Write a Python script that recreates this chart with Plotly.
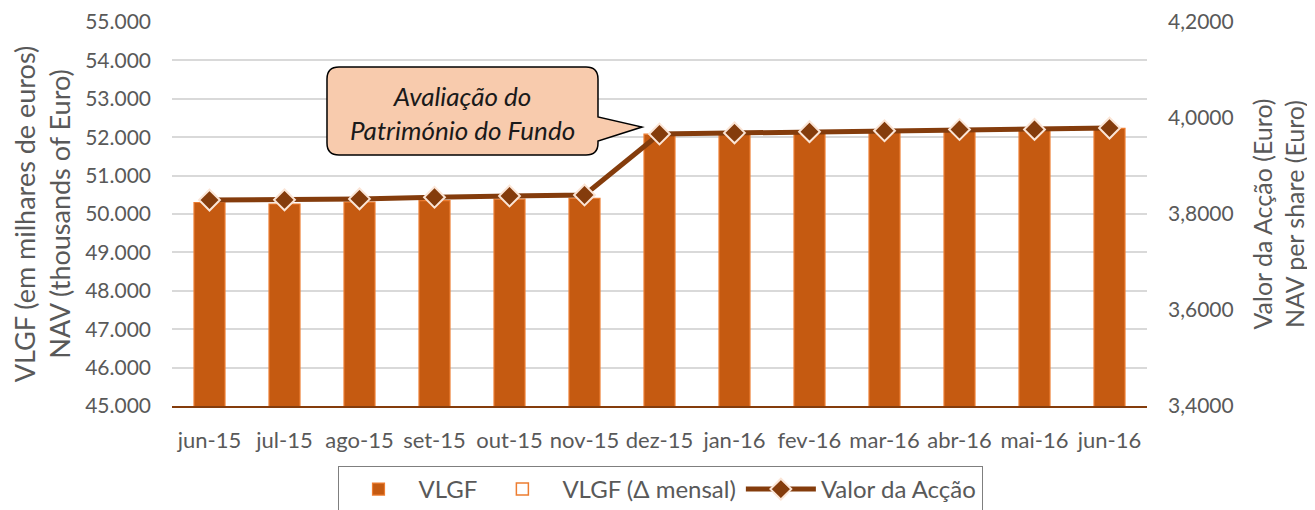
import plotly.graph_objects as go

# ---------------- data ----------------
months = ["jun-15", "jul-15", "ago-15", "set-15", "out-15", "nov-15", "dez-15",
          "jan-16", "fev-16", "mar-16", "abr-16", "mai-16", "jun-16"]
vlgf = [50300, 50260, 50310, 50350, 50385, 50410, 52080,
        52100, 52120, 52150, 52170, 52190, 52230]
vlgf_delta = [None] * 13
valor_accao = [3.8290, 3.8295, 3.8315, 3.8350, 3.8375, 3.8396, 3.9667,
               3.9690, 3.9715, 3.9735, 3.9760, 3.9762, 3.9790]

left_ticks = [45000 + 1000 * i for i in range(11)]
right_ticks = [3.4, 3.6, 3.8, 4.0, 4.2]

# ---------------- layout geometry ----------------
W, H = 1315, 510
OFF = 8                         # default page (body) margin of the html page
# plot area in page pixels
PL, PR, PT, PB = 172 - OFF, 1147 - OFF, 22 - OFF, 406 - OFF


def px(x):
    return (x - OFF - PL) / (PR - PL)


def py(y):
    return (PB - (y - OFF)) / (PB - PT)


FONT = "Lato, Carlito, Calibri, sans-serif"
GREY = "#595959"
BAR = "#C55A11"
LINE = "#843C0C"

fig = go.Figure()
fig.add_trace(go.Bar(
    x=months, y=vlgf, name="VLGF",
    marker=dict(color=BAR, line=dict(color="#ED7D31", width=1.2)),
    yaxis="y",
))
fig.add_trace(go.Bar(
    x=months, y=vlgf_delta, name="VLGF (Δ mensal)",
    marker=dict(color="rgba(255,255,255,0)", line=dict(color="#ED7D31", width=1.5)),
    yaxis="y",
))
fig.add_trace(go.Scatter(
    x=months, y=valor_accao, name="Valor da Acção",
    mode="lines+markers",
    line=dict(color=LINE, width=5),
    marker=dict(symbol="diamond", size=16, color=LINE,
                line=dict(color="#FBE5D6", width=2)),
    yaxis="y2",
))

# callout (speech bubble) geometry in page pixels
bx0, bx1, by0, by1, r = 327, 598, 67, 155, 12
tipx, tipy = 642, 127
pb_top, pb_bot = 117, 141


def P(x, y):
    return f"{px(x):.5f},{py(y):.5f}"


path = (
    f"M {P(bx0 + r, by0)} L {P(bx1 - r, by0)} Q {P(bx1, by0)} {P(bx1, by0 + r)} "
    f"L {P(bx1, pb_top)} L {P(tipx, tipy)} L {P(bx1, pb_bot)} "
    f"L {P(bx1, by1 - r)} Q {P(bx1, by1)} {P(bx1 - r, by1)} "
    f"L {P(bx0 + r, by1)} Q {P(bx0, by1)} {P(bx0, by1 - r)} "
    f"L {P(bx0, by0 + r)} Q {P(bx0, by0)} {P(bx0 + r, by0)} Z"
)

fig.update_layout(
    width=W, height=H,
    margin=dict(l=PL, r=W - PR, t=PT, b=H - PB, autoexpand=False),
    paper_bgcolor="white", plot_bgcolor="white",
    separators=",.",
    font=dict(family=FONT, size=21, color=GREY),
    bargap=0.587,
    barmode="overlay",
    showlegend=True,
    legend=dict(
        orientation="h", x=px(660), xanchor="center", y=py(466), yanchor="top",
        bordercolor="#7F7F7F", borderwidth=1, font=dict(size=24, color=GREY),
        traceorder="normal", itemwidth=70,
    ),
    xaxis=dict(
        type="category", range=[-0.5, len(months) - 0.5],
        showgrid=False, showline=True, linecolor=LINE, linewidth=2,
        ticks="", tickfont=dict(size=22, color=GREY), ticklabelstandoff=14,
    ),
    yaxis=dict(
        range=[45000, 55000], tickvals=left_ticks, tickformat=",.0f",
        showgrid=True, gridcolor="#D9D9D9", gridwidth=1.5, zeroline=False,
        tickfont=dict(size=21, color=GREY), ticks="", ticklabelstandoff=20,
        title=dict(text="VLGF (em milhares de euros)<br>NAV (thousands of Euro)",
                   font=dict(size=27, color=GREY), standoff=12),
    ),
    yaxis2=dict(
        range=[3.4, 4.2], tickvals=right_ticks, tickformat=",.4f",
        overlaying="y", side="right", showgrid=False, zeroline=False,
        tickfont=dict(size=21, color=GREY), ticks="", ticklabelstandoff=20,
        title=dict(text="Valor da Acção (Euro)<br>NAV per share (Euro)",
                   font=dict(size=25, color=GREY), standoff=21),
    ),
    shapes=[dict(type="path", xref="paper", yref="paper", path=path,
                 fillcolor="#F8CBAD", line=dict(color="black", width=1.5),
                 layer="above")],
    annotations=[dict(
        xref="paper", yref="paper", x=px((bx0 + bx1) / 2), y=py(113),
        text="Avaliação do<br>Património do Fundo", showarrow=False,
        font=dict(family=FONT, size=26, color="#1a1a1a", style="italic"),
        xanchor="center", yanchor="middle", align="center",
    )],
)

fig.write_html("out.html")
